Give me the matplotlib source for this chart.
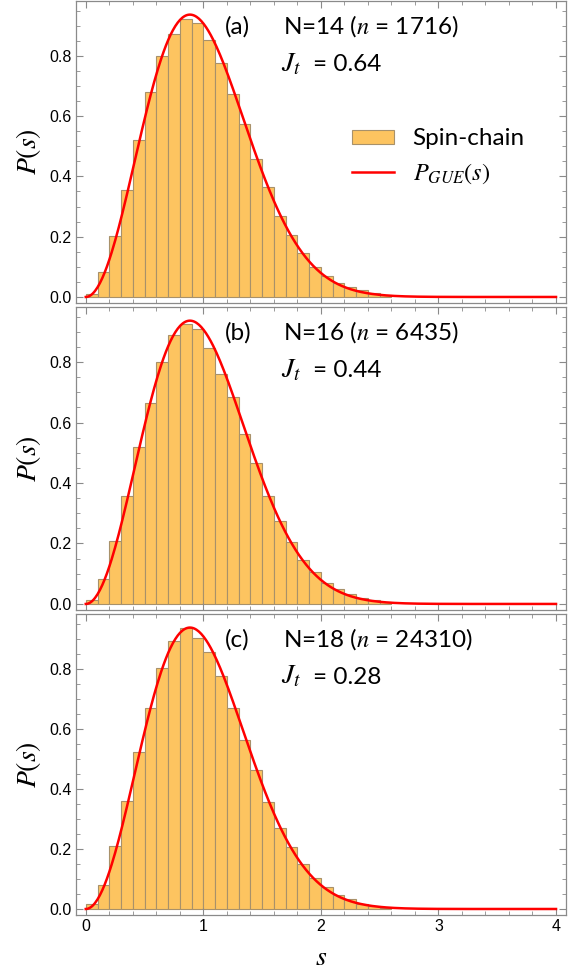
import matplotlib
matplotlib.use('Agg')
import matplotlib.pyplot as plt
from matplotlib.ticker import MultipleLocator
import numpy as np

plt.rcParams['mathtext.fontset'] = 'stix'
plt.rcParams['font.family'] = ['Liberation Sans', 'DejaVu Sans']

# histogram bins: width 0.1, starting at s = 0
bin_width = 0.1
hist_a = [0.011, 0.083, 0.202, 0.354, 0.521, 0.679, 0.800, 0.873, 0.922, 0.909,
          0.853, 0.776, 0.674, 0.573, 0.458, 0.366, 0.270, 0.204, 0.145, 0.099,
          0.070, 0.045, 0.034, 0.022, 0.012, 0.006]
hist_b = [0.014, 0.084, 0.207, 0.356, 0.520, 0.663, 0.801, 0.888, 0.925, 0.908,
          0.845, 0.761, 0.684, 0.561, 0.465, 0.358, 0.274, 0.204, 0.145, 0.105,
          0.068, 0.051, 0.032, 0.020, 0.012, 0.008]
hist_c = [0.017, 0.079, 0.209, 0.358, 0.521, 0.668, 0.802, 0.891, 0.936, 0.902,
          0.854, 0.775, 0.670, 0.563, 0.464, 0.355, 0.269, 0.205, 0.149, 0.104,
          0.074, 0.048, 0.033, 0.016, 0.011, 0.004]

panel_tags = ['(a)', '(b)', '(c)']
chain_sizes = [14, 16, 18]
n_levels = [1716, 6435, 24310]
jt_values = ['0.64', '0.44', '0.28']


def p_gue(s):
    # Wigner surmise for the GUE
    return 32 / np.pi**2 * s**2 * np.exp(-4 * s**2 / np.pi)


bar_color = '#fdc460'
edge_color = '#a8916a'
frame_color = '#8a8a8a'
txt_font = ['Lato', 'DejaVu Sans']

fig = plt.figure(figsize=(5.77, 9.73), dpi=100)
left, right = 76 / 577, 566 / 577
rows = [(1, 303), (307, 610), (614, 915)]

s = np.linspace(0, 4, 400)
for k, hist in enumerate([hist_a, hist_b, hist_c]):
    top, bottom = rows[k]
    ax = fig.add_axes([left, 1 - bottom / 973, right - left, (bottom - top) / 973])
    edges = np.arange(len(hist)) * bin_width
    bars = ax.bar(edges, hist, width=bin_width, align='edge', color=bar_color,
                  edgecolor=edge_color, linewidth=0.8)
    line, = ax.plot(s, p_gue(s), color='#ff0000', lw=1.8)

    ax.set_xlim(-0.083, 4.085)
    ax.set_ylim(-0.02, 0.982)
    ax.xaxis.set_major_locator(MultipleLocator(1))
    ax.xaxis.set_minor_locator(MultipleLocator(0.2))
    ax.yaxis.set_major_locator(MultipleLocator(0.2))
    ax.yaxis.set_minor_locator(MultipleLocator(0.05))
    ax.tick_params(which='both', direction='in', top=True, right=True,
                   color=frame_color, labelsize=11.5, pad=3)
    ax.tick_params(which='major', length=5, width=0.8)
    ax.tick_params(which='minor', length=3, width=0.6)
    for sp in ax.spines.values():
        sp.set_color(frame_color)
        sp.set_linewidth(0.9)
    ax.yaxis.set_major_formatter(matplotlib.ticker.FormatStrFormatter('%.1f'))
    if k < 2:
        ax.tick_params(labelbottom=False)
    else:
        ax.set_xlabel('$s$', fontsize=20, labelpad=8)
    ax.set_ylabel('$P(s)$', fontsize=20, labelpad=5)

    ax.text(1.185, 0.875, panel_tags[k], fontsize=17.5, family=txt_font)
    ax.text(1.68, 0.875, 'N=%d ($n$ = %d)' % (chain_sizes[k], n_levels[k]),
            fontsize=17.5, family=txt_font)
    ax.text(1.66, 0.75, '$J_t$', fontsize=20, family=txt_font)
    ax.text(1.93, 0.75, '= ' + jt_values[k], fontsize=17.5, family=txt_font)

    if k == 0:
        ax.legend([bars, line], ['Spin-chain', '$P_{GUE}(s)$'],
                  loc='upper left', bbox_to_anchor=(0.563, 0.578),
                  frameon=False, borderpad=0, borderaxespad=0,
                  prop={'family': txt_font, 'size': 17.5},
                  handlelength=1.75, handleheight=0.5, handletextpad=0.75,
                  labelspacing=0.5)

fig.savefig('out.png', dpi=100)
